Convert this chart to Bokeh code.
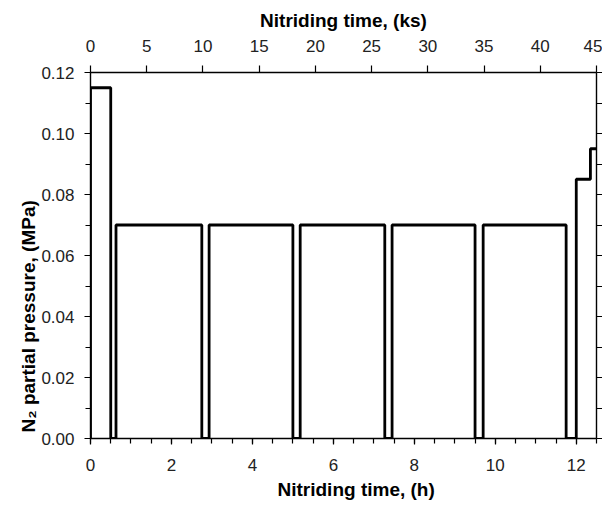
from bokeh.plotting import figure
from bokeh.models import (LinearAxis, Range1d, FixedTicker, PrintfTickFormatter, Title)
from bokeh.embed import file_html
from bokeh.resources import INLINE

# step profile: times (h) where the level changes, and the N2 partial pressure (MPa) from then on
step_times_h = [0.0, 0.0, 0.5, 0.63, 2.75, 2.93, 5.0, 5.18, 7.27, 7.45, 9.5, 9.7, 11.75, 12.0, 12.35, 12.5]
pressure_mpa = [0.0, 0.115, 0.0, 0.07, 0.0, 0.07, 0.0, 0.07, 0.0, 0.07, 0.0, 0.07, 0.0, 0.085, 0.095, 0.095]

x_ticks_h = [0, 2, 4, 6, 8, 10, 12]
x_minor_h = [i * 0.5 for i in range(0, 26)]
x_ticks_ks = [0, 5, 10, 15, 20, 25, 30, 35, 40, 45]
y_ticks = [0.0, 0.02, 0.04, 0.06, 0.08, 0.10, 0.12]
y_minor = [i * 0.01 for i in range(0, 13)]

FONT = "Liberation Sans"

p = figure(width=602, height=504, output_backend="svg", toolbar_location=None,
           x_range=Range1d(0, 12.5), y_range=Range1d(0, 0.12),
           min_border_left=90, min_border_right=2, min_border_top=72, min_border_bottom=66,
           x_axis_type=None, y_axis_type=None)
p.outline_line_color = None
p.xgrid.visible = False
p.ygrid.visible = False
p.background_fill_color = "white"
p.border_fill_color = "white"

p.extra_x_ranges = {"ks": Range1d(0, 45)}
p.extra_y_ranges = {"r": Range1d(0, 0.12)}


def style(ax, label_size="17px"):
    ax.axis_line_color = "black"
    ax.axis_line_width = 1.4
    ax.major_tick_line_color = "black"
    ax.major_tick_line_width = 1.2
    ax.minor_tick_line_color = "black"
    ax.minor_tick_line_width = 1.2
    ax.major_tick_in = 0
    ax.minor_tick_in = 0
    ax.major_label_text_font = FONT
    ax.major_label_text_font_size = label_size
    ax.major_label_text_color = "#222222"
    ax.axis_label_text_font = FONT
    ax.axis_label_text_font_style = "bold"
    ax.axis_label_text_font_size = "19px"
    ax.axis_label_text_color = "black"


bottom = LinearAxis(ticker=FixedTicker(ticks=x_ticks_h, minor_ticks=x_minor_h))
style(bottom)
bottom.major_tick_out = 6
bottom.minor_tick_out = 5
bottom.major_label_standoff = 14
p.add_layout(bottom, "below")

xtitle = Title(text="Nitriding time, (h)", align="left", offset=187, standoff=6,
               text_font=FONT, text_font_style="bold", text_font_size="19px", text_color="black")
p.add_layout(xtitle, "below")

top = LinearAxis(x_range_name="ks", ticker=FixedTicker(ticks=x_ticks_ks, minor_ticks=[]),
                 axis_label="Nitriding time, (ks)")
style(top)
top.major_tick_out = 7
top.minor_tick_out = 0
top.major_label_standoff = 14
top.axis_label_standoff = 6
p.add_layout(top, "above")

left = LinearAxis(ticker=FixedTicker(ticks=y_ticks, minor_ticks=y_minor),
                  formatter=PrintfTickFormatter(format="%.2f"))
style(left)
left.major_tick_out = 6
left.minor_tick_out = 5
left.major_label_standoff = 10
p.add_layout(left, "left")

right = LinearAxis(y_range_name="r", ticker=FixedTicker(ticks=y_minor, minor_ticks=[]),
                   major_label_overrides={t: "" for t in y_minor})
style(right)
right.major_tick_out = 6
right.minor_tick_out = 0
right.major_label_standoff = 0
p.add_layout(right, "right")

p.step(x=step_times_h, y=pressure_mpa, mode="after", line_color="black", line_width=2.8)

ytitle = Title(text="N\u2082 partial pressure, (MPa)", align="left", offset=6, standoff=0,
               text_font=FONT, text_font_style="bold", text_font_size="19px", text_color="black")
p.add_layout(ytitle, "left")

open("out.html", "w").write(file_html(p, INLINE))
